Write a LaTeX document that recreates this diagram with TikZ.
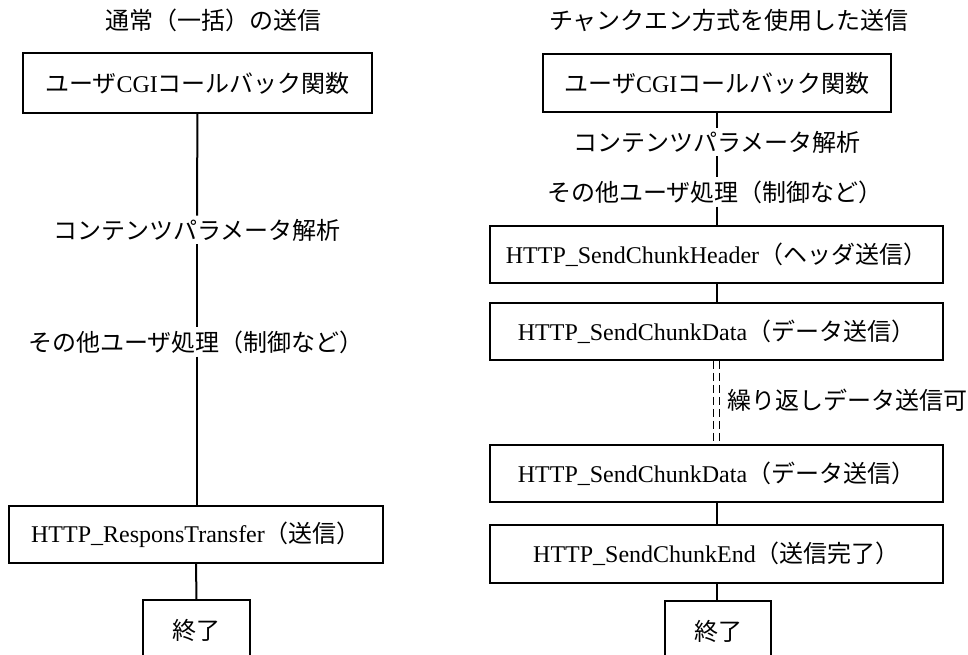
\documentclass[tikz,border=0pt]{standalone}
\usepackage{fontspec}
\setmainfont{Liberation Serif}
\newfontfamily\jp{Noto Sans CJK JP}
\begin{document}
\begin{tikzpicture}[x=1pt,y=-1pt,
  every node/.style={font=\fontsize{24}{28}\selectfont},
  box/.style={draw, line width=1.6pt, minimum height=57pt, inner sep=0pt},
  thickbox/.style={box, line width=2.4pt},
  lbl/.style={inner sep=3pt},
  conn/.style={line width=2pt},
  dconn/.style={line width=1.6pt, dash pattern=on 8pt off 4pt}]
\useasboundingbox (0,0) rectangle (968,655);
% left column
\node[lbl] (tl) at (213,20) {\jp 通常（一括）の送信};
\node[thickbox, minimum width=349pt, minimum height=60pt] (a1) at (197.5,83) {{\jp ユーザ}CGI{\jp コールバック関数}};
\node[lbl] (a2) at (197,230) {\jp コンテンツパラメータ解析};
\node[lbl] (a3) at (196,342) {\jp その他ユーザ処理（制御など）};
\node[box, minimum width=374pt] (a4) at (196,534.5) {HTTP\_ResponsTransfer{\jp （送信）}};
\node[thickbox, minimum width=107pt, minimum height=60pt] (a5) at (196.5,630) {\jp 終了};
\draw[conn] (a1) -- (a2);
\draw[conn] (a2) -- (a2 |- a3.north);
\draw[conn] (a2 |- a3.south) -- (a2 |- a4.north);
\draw[conn] (a4) -- (a5);
% right column
\node[lbl] (tr) at (729,20) {\jp チャンクエン方式を使用した送信};
\node[thickbox, minimum width=348pt, minimum height=58pt] (b1) at (717,83) {{\jp ユーザ}CGI{\jp コールバック関数}};
\node[lbl] (b2) at (717,142) {\jp コンテンツパラメータ解析};
\node[lbl] (b3) at (715,192) {\jp その他ユーザ処理（制御など）};
\node[box, minimum width=453pt] (b4) at (716.5,254.5) {HTTP\_SendChunkHeader{\jp （ヘッダ送信）}};
\node[box, minimum width=453pt] (b5) at (716.5,331.5) {HTTP\_SendChunkData{\jp （データ送信）}};
\node[box, minimum width=453pt] (b6) at (716.5,473.5) {HTTP\_SendChunkData{\jp （データ送信）}};
\node[box, minimum width=453pt, minimum height=58pt] (b7) at (716.5,554) {HTTP\_SendChunkEnd{\jp （送信完了）}};
\node[thickbox, minimum width=106pt, minimum height=60pt] (b8) at (718,631) {\jp 終了};
\node[lbl, anchor=west] (rep) at (724,400) {\jp 繰り返しデータ送信可};
\draw[conn] (b1.south -| b2) -- (b2);
\draw[conn] (b2) -- (b2 |- b3.north);
\draw[conn] (b2 |- b3.south) -- (b2 |- b4.north);
\draw[conn] (b4) -- (b5);
\draw[dconn] ([xshift=-3pt]b5.south) -- ([xshift=-3pt]b6.north);
\draw[dconn] ([xshift=3pt]b5.south) -- ([xshift=3pt]b6.north);
\draw[conn] (b6) -- (b7);
\draw[conn] (b7.south) -- (b8.north -| b7.south);
\end{tikzpicture}
\end{document}
